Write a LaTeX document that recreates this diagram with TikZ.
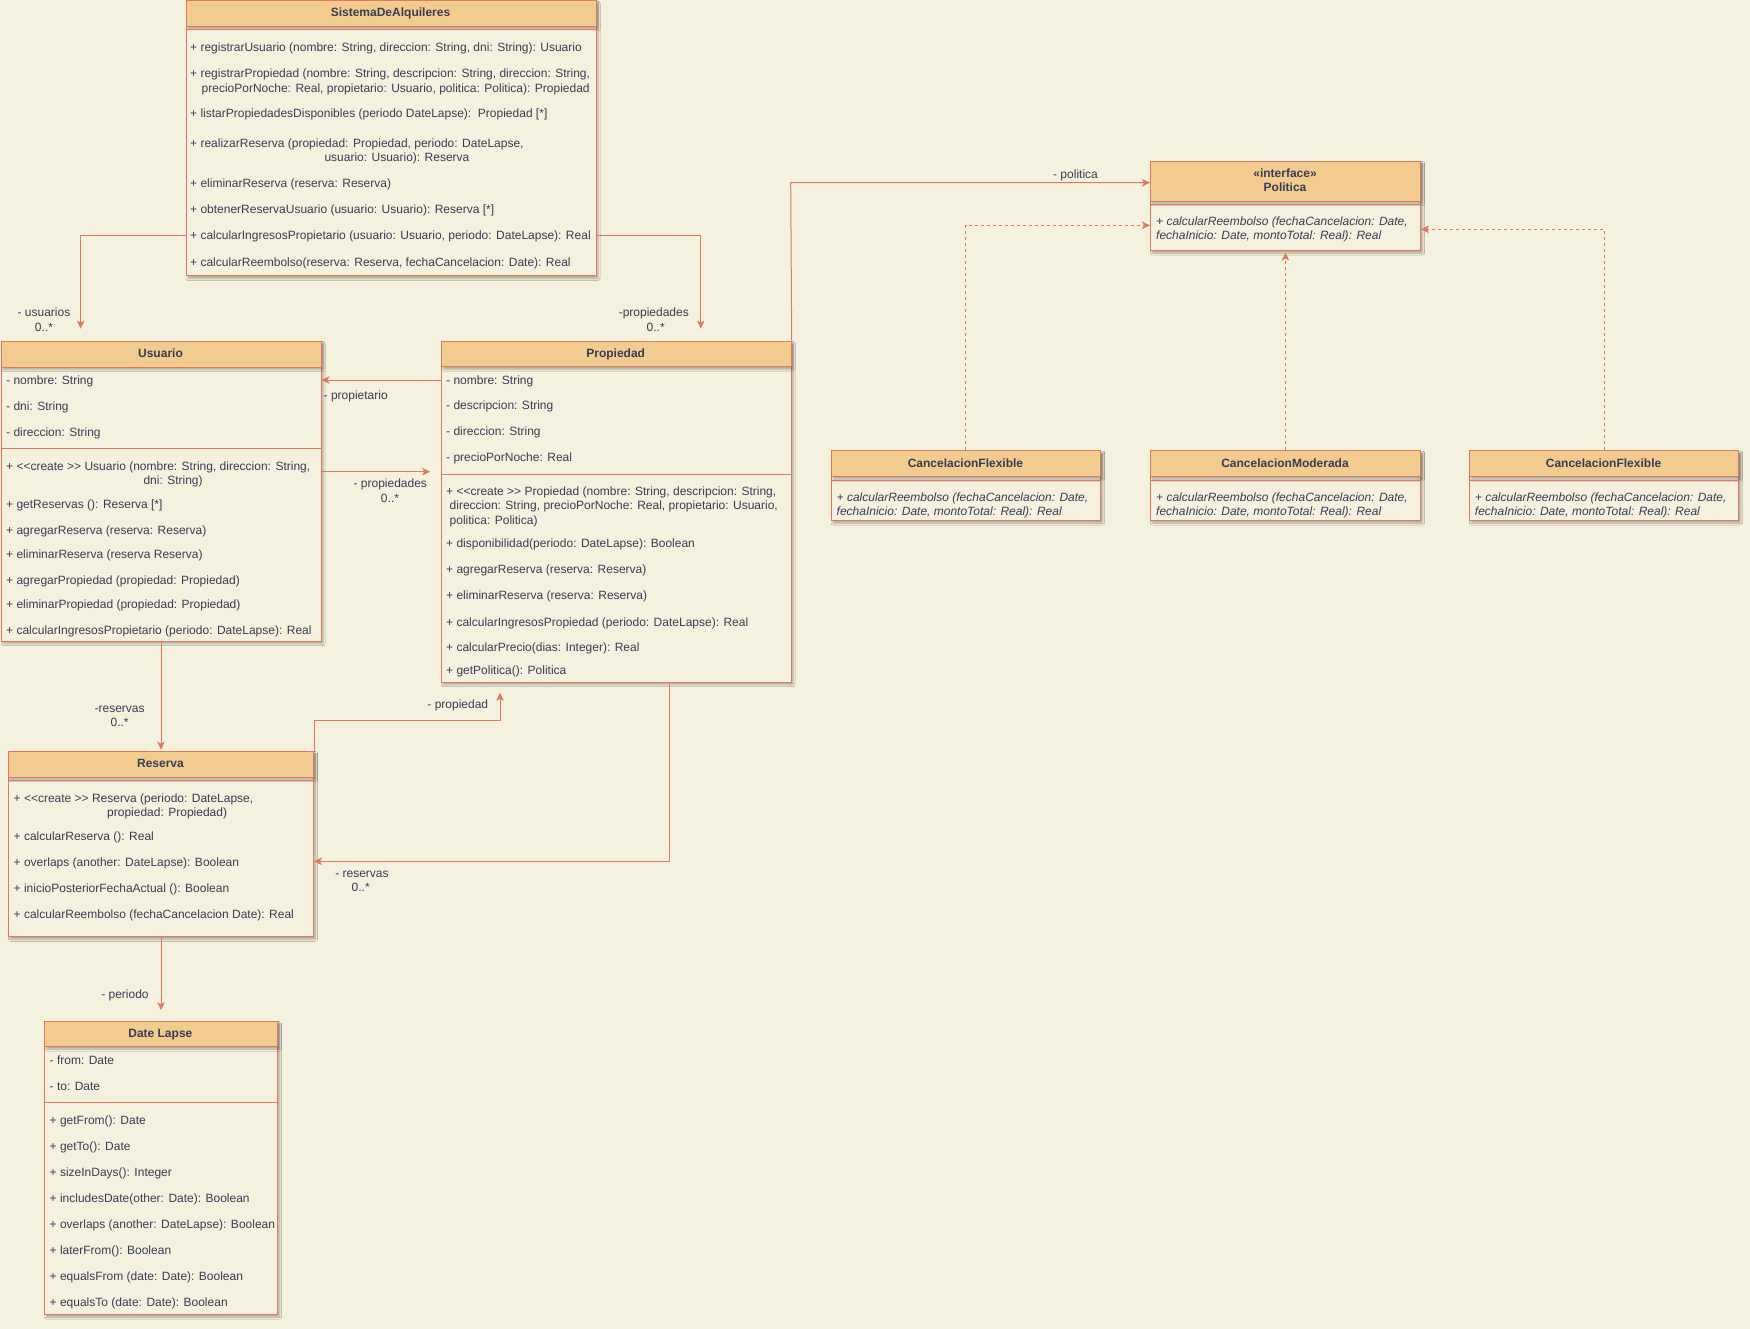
\documentclass[tikz,border=0pt]{standalone}
\usepackage{fontspec}
\setmainfont{Liberation Sans}
\usetikzlibrary{arrows.meta,shadows.blur}
\definecolor{bgc}{HTML}{F4F1DE}
\definecolor{hdrc}{HTML}{F2CC8F}
\definecolor{strk}{HTML}{E07A5F}
\definecolor{fontc}{HTML}{393C56}
\newcommand{\ml}[4]{\node[txt] (#1) at (#2,#3+4) {#4};}
\newcommand{\mli}[4]{\node[itxt] (#1) at (#2,#3+4) {#4};}
\newcommand{\lb}[4]{\node[lbl] (#1) at (#2,#3+4) {#4};}
\newcommand{\LL}{<\kern0pt<}
\newcommand{\GG}{>\kern0pt>}
\tikzset{
 shd/.style={blur shadow={shadow xshift=2pt,shadow yshift=-2.5pt,shadow blur radius=2pt,shadow blur steps=6,shadow opacity=30}},
 body/.style={draw=strk,fill=bgc,line width=1pt,inner sep=0pt,anchor=north west,shd},
 hdr/.style={draw=strk,fill=hdrc,line width=1pt,inner sep=0pt,anchor=north west,shd},
 sepline/.style={draw=strk,line width=1pt},
 txt/.style={inner sep=0pt,anchor=base west,text=fontc,font=\fontsize{12}{15}\selectfont},
 itxt/.style={txt,font=\itshape\fontsize{12}{15}\selectfont},
 ttl/.style={inner sep=0pt,anchor=base,text=fontc,font=\bfseries\fontsize{12}{15}\selectfont},
 lbl/.style={inner sep=0pt,anchor=base,text=fontc,font=\fontsize{12}{15}\selectfont},
 assoc/.style={draw=strk,line width=1pt,-{Stealth[length=8pt,width=7.5pt,inset=2pt]}},
 realiz/.style={assoc,dash pattern=on 3pt off 3pt},
}
\begin{document}
\begin{tikzpicture}[x=1pt,y=-1pt]
\fill[bgc] (0,0) rectangle (1750,1329);
\useasboundingbox (0,0) rectangle (1750,1329);

% ---------- SistemaDeAlquileres ----------
\node[body,minimum width=410pt,minimum height=275pt] (sis) at (185.5,0.5) {};
\node[hdr,minimum width=410pt,minimum height=25.5pt] (sish) at (185.5,0.5) {};
\draw[sepline] (sis.west |- 0,30) -- (sis.east |- 0,30);
\node[ttl] (sist) at (390.5,13+4) {SistemaDeAlquileres};
\ml{s1}{190}{47.7}{+ registrarUsuario (nombre: String, direccion: String, dni: String): Usuario}
\ml{s2}{190}{73.3}{+ registrarPropiedad (nombre: String, descripcion: String, direccion: String,}
\ml{s3}{201.5}{88.3}{precioPorNoche: Real, propietario: Usuario, politica: Politica): Propiedad}
\ml{s4}{190}{113.7}{+ listarPropiedadesDisponibles (periodo DateLapse):\ \ Propiedad [*]}
\ml{s5}{190}{143.3}{+ realizarReserva (propiedad: Propiedad, periodo: DateLapse,}
\ml{s6}{324.3}{157.7}{usuario: Usuario): Reserva}
\ml{s7}{190}{183.7}{+ eliminarReserva (reserva: Reserva)}
\ml{s8}{190}{209.7}{+ obtenerReservaUsuario (usuario: Usuario): Reserva [*]}
\ml{s9}{190}{236}{+ calcularIngresosPropietario (usuario: Usuario, periodo: DateLapse): Real}
\ml{s10}{190}{263}{+ calcularReembolso(reserva: Reserva, fechaCancelacion: Date): Real}

% ---------- Usuario ----------
\node[body,minimum width=320pt,minimum height=300pt] (usr) at (0.5,340.7) {};
\node[hdr,minimum width=320pt,minimum height=26pt] (usrh) at (0.5,340.7) {};
\draw[sepline] (usr.west |- 0,448.3) -- (usr.east |- 0,448.3);
\node[ttl] (usrt) at (160.5,353.3+4) {Usuario};
\ml{u1}{6}{380}{- nombre: String}
\ml{u2}{6}{406}{- dni: String}
\ml{u3}{6}{432}{- direccion: String}
\ml{u4}{6}{466}{+ \LL create \GG\ Usuario (nombre: String, direccion: String,}
\ml{u5}{143.3}{480}{dni: String)}
\ml{u6}{6}{504}{+ getReservas (): Reserva [*]}
\ml{u7}{6}{530}{+ agregarReserva (reserva: Reserva)}
\ml{u8}{6}{554}{+ eliminarReserva (reserva Reserva)}
\ml{u9}{6}{580}{+ agregarPropiedad (propiedad: Propiedad)}
\ml{u10}{6}{604}{+ eliminarPropiedad (propiedad: Propiedad)}
\ml{u11}{6}{630}{+ calcularIngresosPropietario (periodo: DateLapse): Real}

% ---------- Propiedad ----------
\node[body,minimum width=350pt,minimum height=341pt] (prop) at (440.7,340.7) {};
\node[hdr,minimum width=350pt,minimum height=25.5pt] (proph) at (440.7,340.7) {};
\draw[sepline] (prop.west |- 0,474.3) -- (prop.east |- 0,474.3);
\node[ttl] (propt) at (615.7,354+4) {Propiedad};
\ml{p1}{446}{380}{- nombre: String}
\ml{p2}{446}{405.7}{- descripcion: String}
\ml{p3}{446}{431.7}{- direccion: String}
\ml{p4}{446}{457.7}{- precioPorNoche: Real}
\ml{p5}{446}{491.7}{+ \LL create \GG\ Propiedad (nombre: String, descripcion: String,}
\ml{p6}{449.5}{505.3}{direccion: String, precioPorNoche: Real, propietario: Usuario,}
\ml{p7}{449.5}{520}{politica: Politica)}
\ml{p8}{446}{543.3}{+ disponibilidad(periodo: DateLapse): Boolean}
\ml{p9}{446}{569.7}{+ agregarReserva (reserva: Reserva)}
\ml{p10}{446}{595.7}{+ eliminarReserva (reserva: Reserva)}
\ml{p11}{446}{622}{+ calcularIngresosPropiedad (periodo: DateLapse): Real}
\ml{p12}{446}{647.7}{+ calcularPrecio(dias: Integer): Real}
\ml{p13}{446}{670}{+ getPolitica(): Politica}

% ---------- Reserva ----------
\node[body,minimum width=305pt,minimum height=185.6pt] (res) at (8,750.7) {};
\node[hdr,minimum width=305pt,minimum height=26pt] (resh) at (8,750.7) {};
\draw[sepline] (res.west |- 0,780) -- (res.east |- 0,780);
\node[ttl] (rest) at (160.5,763.3+4) {Reserva};
\ml{r1}{13.5}{798}{+ \LL create \GG\ Reserva (periodo: DateLapse,}
\ml{r2}{107}{812}{propiedad: Propiedad)}
\ml{r3}{13.5}{836}{+ calcularReserva (): Real}
\ml{r4}{13.5}{862}{+ overlaps (another: DateLapse): Boolean}
\ml{r5}{13.5}{888}{+ inicioPosteriorFechaActual (): Boolean}
\ml{r6}{13.5}{914}{+ calcularReembolso (fechaCancelacion Date): Real}

% ---------- Date Lapse ----------
\node[body,minimum width=233.3pt,minimum height=293.3pt] (dl) at (43.7,1020.7) {};
\node[hdr,minimum width=233.3pt,minimum height=25.3pt] (dlh) at (43.7,1020.7) {};
\draw[sepline] (dl.west |- 0,1102.3) -- (dl.east |- 0,1102.3);
\node[ttl] (dlt) at (160.35,1033.3+4) {Date Lapse};
\ml{d1}{49.5}{1060}{- from: Date}
\ml{d2}{49.5}{1086}{- to: Date}
\ml{d3}{49.5}{1120}{+ getFrom(): Date}
\ml{d4}{49.5}{1146}{+ getTo(): Date}
\ml{d5}{49.5}{1172}{+ sizeInDays(): Integer}
\ml{d6}{49.5}{1198}{+ includesDate(other: Date): Boolean}
\ml{d7}{49.5}{1224}{+ overlaps (another: DateLapse): Boolean}
\ml{d8}{49.5}{1250}{+ laterFrom(): Boolean}
\ml{d9}{49.5}{1276}{+ equalsFrom (date: Date): Boolean}
\ml{d10}{49.5}{1302}{+ equalsTo (date: Date): Boolean}

% ---------- Politica ----------
\node[body,minimum width=270pt,minimum height=89.3pt] (pol) at (1150,160.7) {};
\node[hdr,minimum width=270pt,minimum height=40pt] (polh) at (1150,160.7) {};
\draw[sepline] (pol.west |- 0,204.3) -- (pol.east |- 0,204.3);
\node[ttl] (polt1) at (1285,174+4) {«interface»};
\node[ttl] (polt2) at (1285,187.7+4) {Politica};
\mli{pm1}{1156}{221.7}{+ calcularReembolso (fechaCancelacion: Date,}
\mli{pm2}{1156}{236}{fechaInicio: Date, montoTotal: Real): Real}

% ---------- Cancelacion classes ----------
\node[body,minimum width=269.5pt,minimum height=70pt] (cf1) at (830.7,450) {};
\node[hdr,minimum width=269.5pt,minimum height=26pt] (cf1h) at (830.7,450) {};
\draw[sepline] (cf1.west |- 0,480) -- (cf1.east |- 0,480);
\node[ttl] (cf1t) at (965.45,463.3+4) {CancelacionFlexible};
\mli{cfa}{836.5}{497.7}{+ calcularReembolso (fechaCancelacion: Date,}
\mli{cfb}{836.5}{511.7}{fechaInicio: Date, montoTotal: Real): Real}

\node[body,minimum width=270pt,minimum height=70pt] (cm) at (1150,450) {};
\node[hdr,minimum width=270pt,minimum height=26pt] (cmh) at (1150,450) {};
\draw[sepline] (cm.west |- 0,480) -- (cm.east |- 0,480);
\node[ttl] (cmt) at (1285,463.3+4) {CancelacionModerada};
\mli{cma}{1156}{497.7}{+ calcularReembolso (fechaCancelacion: Date,}
\mli{cmb}{1156}{511.7}{fechaInicio: Date, montoTotal: Real): Real}

\node[body,minimum width=269.3pt,minimum height=70pt] (cf2) at (1468.9,450) {};
\node[hdr,minimum width=269.3pt,minimum height=26pt] (cf2h) at (1468.9,450) {};
\draw[sepline] (cf2.west |- 0,480) -- (cf2.east |- 0,480);
\node[ttl] (cf2t) at (1603.55,463.3+4) {CancelacionFlexible};
\mli{cfc}{1474.7}{497.7}{+ calcularReembolso (fechaCancelacion: Date,}
\mli{cfd}{1474.7}{511.7}{fechaInicio: Date, montoTotal: Real): Real}

% ---------- Connectors ----------
\coordinate (c1) at (80.7,236);
\draw[assoc,shorten >=12pt] (c1 -| sis.west) -- (c1) -- (c1 |- usr.north);
\coordinate (c2) at (700.7,236);
\draw[assoc,shorten >=12pt] (c2 -| sis.east) -- (c2) -- (c2 |- prop.north);
\coordinate (c3) at (0,380);
\draw[assoc] (c3 -| prop.west) -- (c3 -| usr.east);
\coordinate (c4) at (0,471.7);
\draw[assoc,shorten >=10.5pt] (c4 -| usr.east) -- (c4 -| prop.west);
\coordinate (c5) at (790.7,182.7);
\draw[assoc] (prop.north east) -- (c5) -- (c5 -| pol.west);
\draw[assoc,shorten >=1pt] (usr.south) -- (usr.south |- res.north);
\coordinate (c7) at (500,720.3);
\draw[assoc,shorten >=10pt] (res.north east) -- (res.north east |- c7) -- (c7) -- (c7 |- prop.south);
\coordinate (c8) at (669.5,861.3);
\draw[assoc] (c8 |- prop.south) -- (c8) -- (c8 -| res.east);
\draw[assoc,shorten >=10.5pt] (res.south) -- (res.south |- dl.north);
\coordinate (c10) at (0,225.3);
\draw[realiz] (cf1.north) -- (cf1.north |- c10) -- (c10 -| pol.west);
\draw[realiz,shorten >=1.5pt] (cm.north) -- (cm.north |- pol.south);
\coordinate (c12) at (0,229.3);
\draw[realiz] (cf2.north) -- (cf2.north |- c12) -- (c12 -| pol.east);

% ---------- Labels ----------
\lb{la}{44}{312.7}{- usuarios}
\lb{lb}{44}{327.7}{0..*}
\lb{lc}{653.8}{312.7}{-propiedades}
\lb{ld}{655.7}{327.3}{0..*}
\lb{le}{355.7}{395}{- propietario}
\lb{lf}{390.3}{483.7}{- propiedades}
\lb{lg}{390}{498.3}{0..*}
\lb{lh}{1075.5}{175}{- politica}
\lb{li}{119.6}{708}{-reservas}
\lb{lj}{119.6}{722}{0..*}
\lb{lk}{457.8}{704.7}{- propiedad}
\lb{ll}{362}{873}{- reservas}
\lb{lm}{360.7}{887.3}{0..*}
\lb{ln}{125}{994.7}{- periodo}
\end{tikzpicture}
\end{document}
